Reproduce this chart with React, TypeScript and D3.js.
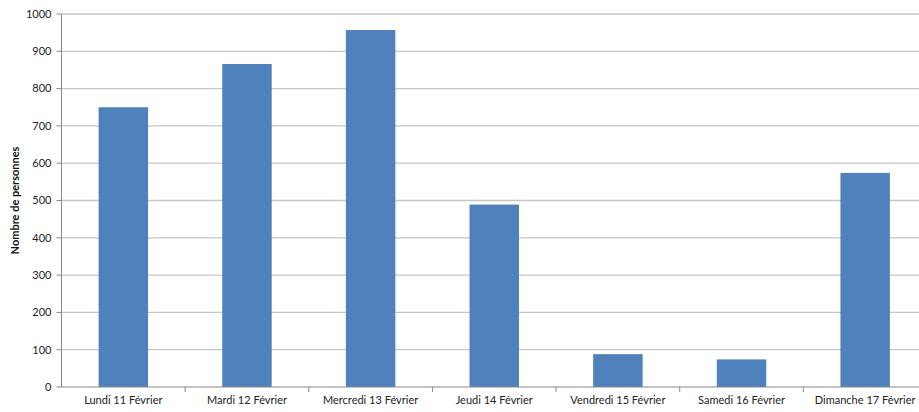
import React from "react";
import * as d3 from "d3";

const categories = [
  "Lundi 11 Février",
  "Mardi 12 Février",
  "Mercredi 13 Février",
  "Jeudi 14 Février",
  "Vendredi 15 Février",
  "Samedi 16 Février",
  "Dimanche 17 Février",
];
const values = [750, 866, 957, 489, 88, 74, 574];
const yTicks = [0, 100, 200, 300, 400, 500, 600, 700, 800, 900, 1000];
const yLabel = "Nombre de personnes";

export default function App() {
  const W = 919, H = 412;
  const left = 61.5, right = 927, top = 14, bottom = 387;
  const x = d3.scaleBand<string>().domain(categories).range([left, right]).paddingInner(0.6).paddingOuter(0.3);
  const band = d3.scaleBand<string>().domain(categories).range([left, right]);
  const y = d3.scaleLinear().domain([0, 1000]).range([bottom, top]);
  const font = "Lato, 'Open Sans', sans-serif";
  return (
    <svg width={W} height={H} style={{ position: "absolute", left: 0, top: 0, background: "#fff" }}>
      {yTicks.map((t) => (
        <g key={t}>
          {t > 0 && <line x1={left} x2={right} y1={y(t)} y2={y(t)} stroke="#c6c6c6" strokeWidth={1.3} />}
          <line x1={left - 5} x2={left} y1={y(t)} y2={y(t)} stroke="#888" />
          <text x={left - 10} y={y(t)} dy="0.35em" textAnchor="end" fontSize={11} fontFamily={font} fill="#222">{t}</text>
        </g>
      ))}
      {categories.map((c, i) => (
        <g key={c}>
          <rect x={x(c)} y={y(values[i])} width={x.bandwidth()} height={bottom - y(values[i])} fill="#4F81BD" />
          <text x={(band(c) as number) + band.bandwidth() / 2} y={bottom + 17} textAnchor="middle" fontSize={11} fontFamily={font} fill="#222">{c}</text>
        </g>
      ))}
      {categories.slice(1).map((c) => (
        <line key={c} x1={band(c)} x2={band(c)} y1={bottom} y2={bottom + 5} stroke="#888" />
      ))}
      <line x1={left} x2={right} y1={bottom} y2={bottom} stroke="#888" />
      <line x1={left} x2={left} y1={top} y2={bottom} stroke="#888" />
      <text transform={`translate(19,${(top + bottom) / 2}) rotate(-90)`} textAnchor="middle" fontSize={11} fontWeight="bold" fontFamily={font} fill="#111">{yLabel}</text>
    </svg>
  );
}
